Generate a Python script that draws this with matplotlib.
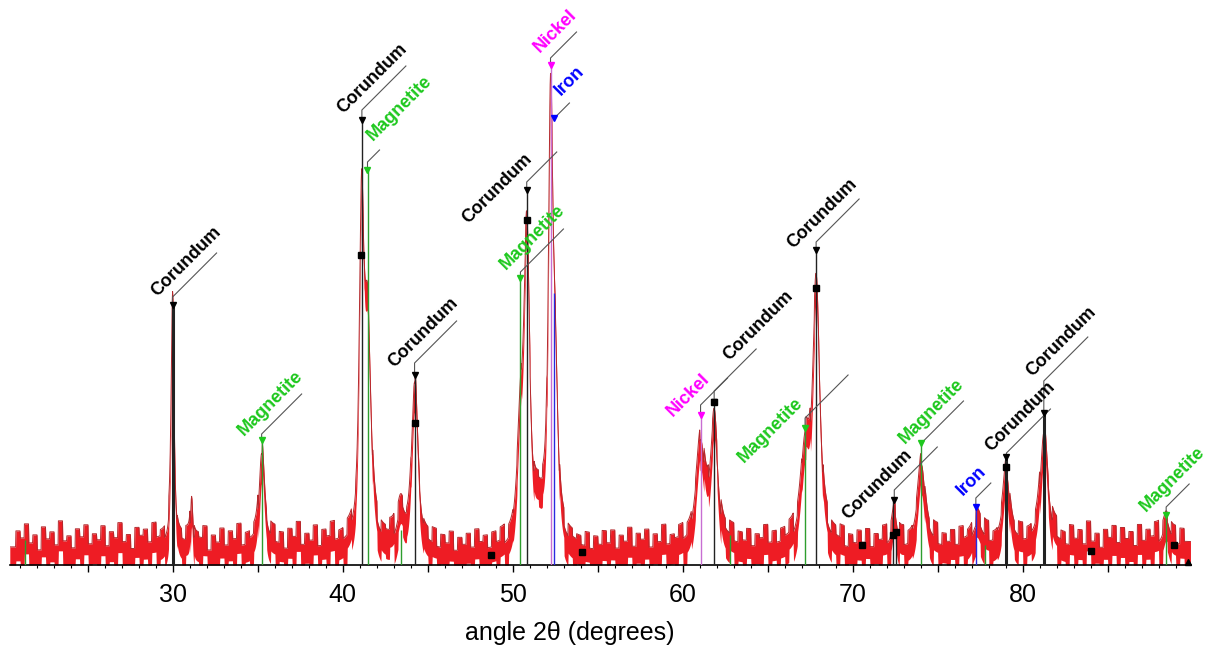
import numpy as np
import matplotlib
matplotlib.use('Agg')
import matplotlib.pyplot as plt

plt.rcParams['font.family'] = ['Liberation Sans', 'DejaVu Sans']

# Fitted reflections: position (2theta), amplitude above background, FWHM
peak_pos = [29.98, 31.1, 35.22, 41.10, 41.45, 43.4, 44.22, 50.45, 50.82,
            51.5, 52.22, 52.50, 61.05, 61.85, 67.20, 67.85, 72.45, 74.05,
            77.30, 79.05, 81.25, 88.45]
peak_amp = [235, 50, 95, 320, 215, 30, 160, 100, 290,
            35, 430, 150, 100, 120, 90, 250, 30, 80,
            22, 72, 112, 20]
peak_fwhm = [0.20, 0.15, 0.35, 0.30, 0.45, 0.5, 0.42, 0.45, 0.40,
             0.8, 0.30, 0.35, 0.60, 0.50, 0.60, 0.50, 0.30, 0.50,
             0.60, 0.45, 0.50, 0.40]

# Background counts, 0.25 deg bins starting at 20.5 deg
bg_start = 20.5
bg_step = 0.25
bg_counts = [
    18, 34, 27, 41, 22, 30, 15, 38, 26, 33, 20, 44, 24, 29, 17, 36, 28, 40, 21, 31,
    25, 39, 19, 33, 27, 42, 23, 30, 16, 37, 29, 35, 22, 41, 26, 32, 20, 38, 24, 30,
    21, 35, 17, 31, 26, 38, 14, 29, 22, 36, 19, 33, 25, 40, 18, 30, 23, 34, 16, 32,
    24, 37, 20, 31, 15, 35, 27, 42, 19, 30, 23, 38, 17, 33, 26, 40, 21, 29, 18, 34,
    22, 30, 18, 27, 20, 33, 16, 28, 24, 36, 15, 31, 21, 26, 19, 34, 23, 29, 17, 32,
    14, 27, 19, 31, 12, 25, 18, 29, 15, 33, 20, 26, 13, 28, 17, 30, 11, 24, 19, 27,
    16, 28, 13, 25, 18, 30, 12, 26, 17, 31, 14, 27, 19, 24, 15, 29, 13, 26, 18, 32,
    20, 33, 15, 28, 22, 36, 17, 30, 24, 34, 16, 29, 21, 38, 18, 27, 23, 35, 19, 31,
    22, 30, 17, 34, 20, 27, 15, 32, 23, 36, 18, 29, 21, 33, 16, 28, 24, 37, 19, 30,
    18, 31, 22, 35, 16, 28, 20, 33, 15, 29, 23, 36, 17, 30, 21, 34, 14, 27, 19, 32,
    20, 34, 16, 29, 23, 37, 18, 31, 21, 35, 15, 28, 24, 33, 19, 30, 22, 38, 17, 29,
    21, 33, 18, 36, 24, 30, 16, 34, 22, 39, 19, 28, 25, 35, 17, 31, 23, 37, 20, 32,
    24, 36, 19, 33, 26, 41, 21, 30, 18, 38, 25, 34, 20, 43, 23, 31, 17, 35, 27, 39,
    22, 37, 26, 33, 19, 40, 24, 35, 28, 42, 21, 34, 25, 38, 20, 36, 23,
]

# Reference lines per phase: position, stick height
corundum_pos = [29.98, 41.12, 44.22, 50.82, 61.85, 67.85, 72.35, 72.55, 79.05, 81.25]
corundum_h = [260, 445, 190, 375, 163, 315, 65, 33, 108, 152]
magnetite_pos = [21.3, 35.22, 41.48, 43.4, 50.45, 62.8, 67.2, 74.05, 77.8, 88.45]
magnetite_h = [25, 125, 395, 35, 287, 30, 137, 122, 20, 50]
nickel_pos = [52.22, 61.05]
nickel_h = [500, 150]
iron_pos = [52.45, 77.25]
iron_h = [272, 58]

# Secondary card markers (squares)
square_pos = [41.05, 44.22, 48.7, 50.82, 54.05, 61.85, 67.85, 70.55, 72.35, 72.55, 79.05, 84.0, 88.9]
square_h = [310, 142, 10, 345, 13, 163, 277, 20, 30, 33, 98, 14, 20]

# Phase labels: position, marker height, name, vertical px, diagonal px, text shift px
label_pos = [29.98, 35.22, 41.12, 41.45, 44.22, 50.82, 50.45, 52.22, 52.45,
             61.05, 61.85, 67.20, 67.85, 72.45, 74.05, 77.25, 79.05, 81.25, 88.45]
label_h = [260, 125, 445, 395, 190, 375, 287, 500, 447,
           150, 163, 137, 315, 65, 122, 58, 108, 152, 50]
label_txt = ['Corundum', 'Magnetite', 'Corundum', 'Magnetite', 'Corundum', 'Corundum',
             'Magnetite', 'Nickel', 'Iron', 'Nickel', 'Corundum', 'Magnetite',
             'Corundum', 'Corundum', 'Magnetite', 'Iron', 'Corundum', 'Corundum',
             'Magnetite']
label_vlen = [8, 6, 10, 8, 12, 8, 6, 7, 0, 10, 11, 10, 8, 10, 0, 9, 4, 32, 8]
label_dlen = [44, 40, 44, 12, 42, 30, 43, 26, 15, 27, 42, 43, 43, 43, 42, 15, 44, 44, 23]
label_shift = [-11, -14, -16, 18, -18, -71, -9, -4, 20, -28, 32, -75, -21, -54, -12, -8, -10, -5, -18]

phase_color = {'Corundum': '#000000', 'Magnetite': '#1ec81e',
               'Nickel': '#ff00ff', 'Iron': '#0000ff'}
stick_color = {'Corundum': '#222222', 'Magnetite': '#2e9e2e',
               'Nickel': '#c86ed2', 'Iron': '#2a2ae0'}


def pv(x, pos, amp, fwhm, eta=0.7):
    hw = fwhm / 2.0
    lor = 1.0 / (1.0 + ((x - pos) / hw) ** 2)
    gau = np.exp(-np.log(2) * ((x - pos) / hw) ** 2)
    return amp * (eta * lor + (1 - eta) * gau)


fig = plt.figure(figsize=(12.11, 6.5), dpi=100)
ax = fig.add_axes([9.8 / 1211, 85 / 650, 1181 / 1211, 565 / 650])
ax.set_xlim(20.4, 89.9)
ax.set_ylim(0, 565)

x = np.arange(20.4, 89.9, 0.02)
idx = np.clip(((x - bg_start) // bg_step).astype(int), 0, len(bg_counts) - 1)
y = np.asarray(bg_counts, dtype=float)[idx]
for p, a, w in zip(peak_pos, peak_amp, peak_fwhm):
    y = y + pv(x, p, a, w)

ax.fill_between(x, np.clip(y - 30, 0, None), y, color='#ee1c24', lw=0, zorder=2)
ax.plot(x, y, color='#b4282c', lw=0.7, zorder=2)

# stick patterns
for name, pos, hts in [('Magnetite', magnetite_pos, magnetite_h),
                       ('Corundum', corundum_pos, corundum_h),
                       ('Nickel', nickel_pos, nickel_h),
                       ('Iron', iron_pos, iron_h)]:
    for p, h in zip(pos, hts):
        lw = 2.2 if (name == 'Corundum' and p in (29.98, 79.05, 81.25)) else 1.0
        ax.vlines(p, 0, h, color=stick_color[name], lw=lw, zorder=3)

ax.plot(square_pos, square_h, 's', color='black', ms=4, zorder=4)


def shifted(xd, yd, dx, dy):
    X, Y = ax.transData.transform((xd, yd))
    return ax.transData.inverted().transform((X + dx, Y + dy))


perp = 11
r2 = np.sqrt(2)
for p, h, txt, vl, dl, sh in zip(label_pos, label_h, label_txt,
                                 label_vlen, label_dlen, label_shift):
    col = phase_color[txt]
    ax.plot(p, h, 'v', color=col, ms=5, zorder=5)
    P = shifted(p, h, 0, vl)
    D = shifted(p, h, dl, vl + dl)
    ax.plot([p, P[0], D[0]], [h, P[1], D[1]], color='#555555', lw=0.8, zorder=4)
    T = shifted(p, h, sh / r2 - perp / r2, vl + sh / r2 + perp / r2)
    ax.text(T[0], T[1], txt, rotation=45, rotation_mode='anchor',
            ha='left', va='baseline', fontsize=13, fontweight='bold',
            color=col, zorder=6, clip_on=False)

# axis styling
for s in ['left', 'right', 'top']:
    ax.spines[s].set_visible(False)
ax.spines['bottom'].set_linewidth(1.2)
ax.set_yticks([])
ax.set_xticks(np.arange(25, 90, 5))
ax.set_xticklabels([str(v) if v % 10 == 0 else '' for v in range(25, 90, 5)])
ax.set_xticks(np.arange(21, 90, 1), minor=True)
ax.tick_params(axis='x', which='major', length=5, width=1, pad=8, labelsize=18)
ax.tick_params(axis='x', which='minor', length=2.5, width=0.8)
ax.plot(89.75, 3, '^', color='black', ms=4, clip_on=False, zorder=6)

fig.text(570 / 1211, 1 - 640 / 650, 'angle 2θ (degrees)', ha='center',
         va='baseline', fontsize=18)

fig.savefig('out.png', dpi=100)
